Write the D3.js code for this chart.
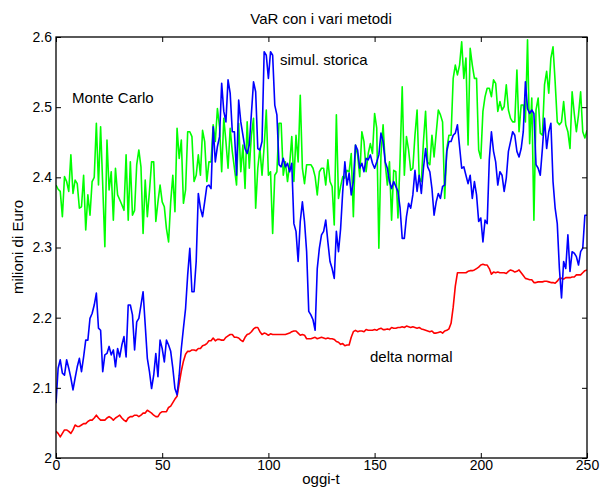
<!DOCTYPE html>
<html>
<head>
<meta charset="utf-8">
<script src="https://cdn.jsdelivr.net/npm/d3@7.9.0/dist/d3.min.js"></script>
<style>
  body { margin: 0; background: #fff; }
  svg { font-family: "Liberation Sans", Arial, sans-serif; }
  .axis text { font-size: 14px; fill: #000; }
  .axis path, .axis line { stroke: #000; }
</style>
</head>
<body>
<svg id="chart" width="601" height="487"></svg>
<script>
// giorni (oggi-t)
const days = d3.range(0, 251);

const xTicks = [0, 50, 100, 150, 200, 250];
const yTicks = [2, 2.1, 2.2, 2.3, 2.4, 2.5, 2.6];
const yTickLabels = ["2", "2.1", "2.2", "2.3", "2.4", "2.5", "2.6"];

// VaR delta normal
const deltaNormal = [
  2.038, 2.035, 2.030, 2.035, 2.040, 2.040, 2.038, 2.035, 2.040, 2.047,
  2.045, 2.045, 2.047, 2.049, 2.049, 2.052, 2.054, 2.054, 2.057, 2.061,
  2.057, 2.054, 2.054, 2.054, 2.057, 2.059, 2.057, 2.054, 2.057, 2.059,
  2.061, 2.057, 2.054, 2.052, 2.057, 2.059, 2.059, 2.061, 2.061, 2.059,
  2.061, 2.064, 2.064, 2.068, 2.066, 2.064, 2.061, 2.059, 2.059, 2.064,
  2.066, 2.066, 2.066, 2.072, 2.074, 2.079, 2.084, 2.088, 2.106, 2.124,
  2.138, 2.148, 2.152, 2.152, 2.154, 2.154, 2.153, 2.156, 2.156, 2.160,
  2.161, 2.163, 2.167, 2.167, 2.171, 2.167, 2.169, 2.169, 2.168, 2.168,
  2.172, 2.174, 2.176, 2.176, 2.172, 2.172, 2.171, 2.168, 2.166, 2.172,
  2.176, 2.177, 2.180, 2.184, 2.186, 2.186, 2.180, 2.176, 2.178, 2.177,
  2.175, 2.177, 2.176, 2.176, 2.176, 2.176, 2.176, 2.176, 2.176, 2.177,
  2.178, 2.180, 2.181, 2.181, 2.178, 2.175, 2.176, 2.175, 2.170, 2.170,
  2.170, 2.171, 2.172, 2.170, 2.171, 2.172, 2.171, 2.170, 2.171, 2.170,
  2.170, 2.169, 2.166, 2.165, 2.162, 2.163, 2.160, 2.161, 2.161, 2.172,
  2.180, 2.182, 2.180, 2.181, 2.181, 2.180, 2.183, 2.182, 2.182, 2.182,
  2.183, 2.182, 2.184, 2.185, 2.183, 2.183, 2.184, 2.183, 2.186, 2.185,
  2.185, 2.186, 2.186, 2.187, 2.186, 2.188, 2.187, 2.186, 2.187, 2.186,
  2.185, 2.186, 2.184, 2.183, 2.182, 2.181, 2.180, 2.181, 2.178, 2.178,
  2.179, 2.180, 2.178, 2.181, 2.182, 2.184, 2.192, 2.215, 2.245, 2.264,
  2.264, 2.264, 2.264, 2.264, 2.266, 2.267, 2.267, 2.268, 2.270, 2.272,
  2.275, 2.276, 2.275, 2.275, 2.270, 2.262, 2.265, 2.264, 2.265, 2.264,
  2.264, 2.264, 2.263, 2.266, 2.268, 2.267, 2.265, 2.266, 2.268, 2.264,
  2.260, 2.256, 2.255, 2.254, 2.254, 2.250, 2.250, 2.251, 2.251, 2.251,
  2.252, 2.252, 2.251, 2.250, 2.250, 2.249, 2.252, 2.256, 2.256, 2.255,
  2.257, 2.257, 2.257, 2.258, 2.258, 2.261, 2.261, 2.261, 2.264, 2.267,
  2.268
];

// VaR simulazione storica
const simulStorica = [
  2.078, 2.128, 2.140, 2.121, 2.118, 2.140, 2.128, 2.114, 2.097, 2.114,
  2.130, 2.142, 2.123, 2.144, 2.168, 2.168, 2.199, 2.206, 2.218, 2.235,
  2.185, 2.182, 2.123, 2.147, 2.149, 2.159, 2.147, 2.154, 2.130, 2.156,
  2.144, 2.161, 2.173, 2.144, 2.218, 2.218, 2.204, 2.154, 2.194, 2.199,
  2.218, 2.237, 2.190, 2.142, 2.123, 2.099, 2.118, 2.149, 2.116, 2.168,
  2.156, 2.137, 2.168, 2.161, 2.152, 2.128, 2.099, 2.090, 2.118, 2.156,
  2.185, 2.213, 2.261, 2.299, 2.237, 2.237, 2.280, 2.377, 2.356, 2.344,
  2.365, 2.387, 2.389, 2.384, 2.472, 2.422, 2.444, 2.458, 2.534, 2.494,
  2.479, 2.539, 2.520, 2.465, 2.465, 2.403, 2.510, 2.479, 2.460, 2.441,
  2.434, 2.446, 2.491, 2.536, 2.522, 2.441, 2.439, 2.451, 2.579, 2.574,
  2.541, 2.579, 2.574, 2.503, 2.489, 2.418, 2.415, 2.427, 2.415, 2.420,
  2.408, 2.420, 2.334, 2.323, 2.280, 2.337, 2.365, 2.337, 2.294, 2.209,
  2.204, 2.197, 2.182, 2.270, 2.299, 2.318, 2.323, 2.339, 2.308, 2.280,
  2.270, 2.256, 2.323, 2.294, 2.327, 2.380, 2.422, 2.389, 2.406, 2.375,
  2.394, 2.446, 2.439, 2.413, 2.420, 2.408, 2.427, 2.425, 2.432, 2.420,
  2.413, 2.422, 2.432, 2.463, 2.451, 2.422, 2.413, 2.394, 2.384, 2.394,
  2.387, 2.380, 2.356, 2.313, 2.313, 2.344, 2.363, 2.356, 2.375, 2.410,
  2.380, 2.403, 2.377, 2.413, 2.441, 2.415, 2.408, 2.384, 2.346, 2.365,
  2.377, 2.370, 2.387, 2.389, 2.437, 2.451, 2.451, 2.460, 2.463, 2.475,
  2.444, 2.413, 2.415, 2.403, 2.391, 2.403, 2.370, 2.394, 2.375, 2.337,
  2.342, 2.308, 2.339, 2.334, 2.425, 2.465, 2.437, 2.422, 2.389, 2.408,
  2.403, 2.380, 2.399, 2.437, 2.451, 2.465, 2.460, 2.437, 2.429, 2.441,
  2.465, 2.536, 2.498, 2.491, 2.496, 2.491, 2.418, 2.413, 2.403, 2.441,
  2.484, 2.441, 2.465, 2.477, 2.394, 2.356, 2.334, 2.270, 2.228, 2.280,
  2.270, 2.318, 2.266, 2.294, 2.292, 2.287, 2.275, 2.294, 2.299, 2.346,
  2.346
];

// VaR Monte Carlo
const monteCarlo = [
  2.389, 2.383, 2.380, 2.344, 2.401, 2.394, 2.380, 2.432, 2.377, 2.396,
  2.391, 2.356, 2.358, 2.403, 2.325, 2.375, 2.346, 2.394, 2.400, 2.477,
  2.389, 2.472, 2.389, 2.301, 2.453, 2.382, 2.408, 2.339, 2.413, 2.375,
  2.368, 2.361, 2.353, 2.432, 2.339, 2.422, 2.346, 2.353, 2.418, 2.439,
  2.415, 2.320, 2.396, 2.344, 2.380, 2.422, 2.422, 2.337, 2.365, 2.389,
  2.365, 2.358, 2.327, 2.308, 2.365, 2.403, 2.351, 2.470, 2.427, 2.453,
  2.363, 2.382, 2.465, 2.465, 2.458, 2.394, 2.403, 2.432, 2.403, 2.467,
  2.451, 2.394, 2.422, 2.422, 2.475, 2.451, 2.498, 2.472, 2.408, 2.484,
  2.451, 2.413, 2.470, 2.437, 2.413, 2.389, 2.477, 2.408, 2.446, 2.384,
  2.479, 2.413, 2.460, 2.484, 2.356, 2.413, 2.441, 2.403, 2.444, 2.496,
  2.403, 2.408, 2.320, 2.403, 2.408, 2.477, 2.477, 2.403, 2.422, 2.394,
  2.418, 2.458, 2.394, 2.460, 2.422, 2.517, 2.413, 2.391, 2.418, 2.418,
  2.418, 2.413, 2.401, 2.375, 2.408, 2.413, 2.413, 2.389, 2.425, 2.394,
  2.387, 2.332, 2.489, 2.370, 2.387, 2.401, 2.399, 2.410, 2.408, 2.434,
  2.344, 2.446, 2.432, 2.401, 2.465, 2.451, 2.408, 2.434, 2.448, 2.434,
  2.491, 2.470, 2.299, 2.432, 2.475, 2.420, 2.389, 2.422, 2.339, 2.410,
  2.408, 2.342, 2.427, 2.529, 2.403, 2.458, 2.439, 2.410, 2.413, 2.460,
  2.496, 2.399, 2.394, 2.451, 2.494, 2.422, 2.418, 2.460, 2.429, 2.463,
  2.496, 2.489, 2.479, 2.370, 2.441, 2.460, 2.460, 2.541, 2.560, 2.546,
  2.560, 2.593, 2.541, 2.570, 2.446, 2.584, 2.560, 2.541, 2.541, 2.439,
  2.427, 2.494, 2.515, 2.527, 2.527, 2.515, 2.539, 2.534, 2.494, 2.508,
  2.496, 2.501, 2.532, 2.496, 2.484, 2.479, 2.479, 2.553, 2.465, 2.503,
  2.503, 2.479, 2.596, 2.448, 2.513, 2.339, 2.496, 2.513, 2.463, 2.460,
  2.532, 2.551, 2.520, 2.570, 2.586, 2.536, 2.479, 2.475, 2.479, 2.508,
  2.475, 2.465, 2.441, 2.522, 2.491, 2.465, 2.489, 2.522, 2.465, 2.456,
  2.467
];

const margin = { top: 37, right: 14, bottom: 29, left: 56 };
const width = 601, height = 487;

const svg = d3.select("#chart");

const x = d3.scaleLinear().domain([0, 250]).range([margin.left, width - margin.right]);
const y = d3.scaleLinear().domain([2, 2.6]).range([height - margin.bottom, margin.top]);

svg.append("defs").append("clipPath").attr("id", "clip")
  .append("rect")
  .attr("x", margin.left).attr("y", margin.top)
  .attr("width", x(250) - x(0)).attr("height", y(2) - y(2.6));

const line = d3.line()
  .x((d, i) => x(days[i]))
  .y(d => y(d));

const series = [
  { values: monteCarlo, color: "#00ff00" },
  { values: deltaNormal, color: "#ff0000" },
  { values: simulStorica, color: "#0000ff" }
];

const plot = svg.append("g").attr("clip-path", "url(#clip)");
series.forEach(s => {
  plot.append("path")
    .attr("d", line(s.values))
    .attr("fill", "none")
    .attr("stroke", s.color)
    .attr("stroke-width", 1.6)
    .attr("stroke-linejoin", "round");
});

// assi con tacche verso l'interno (stile matlab)
svg.append("g").attr("class", "axis")
  .attr("transform", `translate(0,${y(2)})`)
  .call(d3.axisBottom(x).tickValues(xTicks).tickSize(-5).tickPadding(2))
  .call(g => g.select(".domain").remove());

svg.append("g").attr("class", "axis")
  .attr("transform", `translate(0,${y(2.6)})`)
  .call(d3.axisTop(x).tickValues(xTicks).tickSize(-5).tickFormat(""))
  .call(g => g.select(".domain").remove());

svg.append("g").attr("class", "axis")
  .attr("transform", `translate(${x(0)},0)`)
  .call(d3.axisLeft(y).tickValues(yTicks).tickSize(-5).tickPadding(4)
    .tickFormat((d, i) => yTickLabels[i]))
  .call(g => g.select(".domain").remove());

svg.append("g").attr("class", "axis")
  .attr("transform", `translate(${x(250)},0)`)
  .call(d3.axisRight(y).tickValues(yTicks).tickSize(-5).tickFormat(""))
  .call(g => g.select(".domain").remove());

svg.append("rect")
  .attr("x", x(0)).attr("y", y(2.6))
  .attr("width", x(250) - x(0)).attr("height", y(2) - y(2.6))
  .attr("fill", "none").attr("stroke", "#000").attr("stroke-width", 1.3);

// testi
const txt = (tx, ty, s, anchor) => svg.append("text")
  .attr("x", tx).attr("y", ty)
  .attr("text-anchor", anchor || "start")
  .attr("font-size", 15)
  .text(s);

txt(321, 24, "VaR con i vari metodi", "middle");
txt(321, 484, "oggi-t", "middle");
txt(72, 103, "Monte Carlo");
txt(280, 65, "simul. storica");
txt(370, 362, "delta normal");

svg.append("text")
  .attr("transform", `translate(23,247) rotate(-90)`)
  .attr("text-anchor", "middle")
  .attr("font-size", 15)
  .text("milioni di Euro");
</script>
</body>
</html>
